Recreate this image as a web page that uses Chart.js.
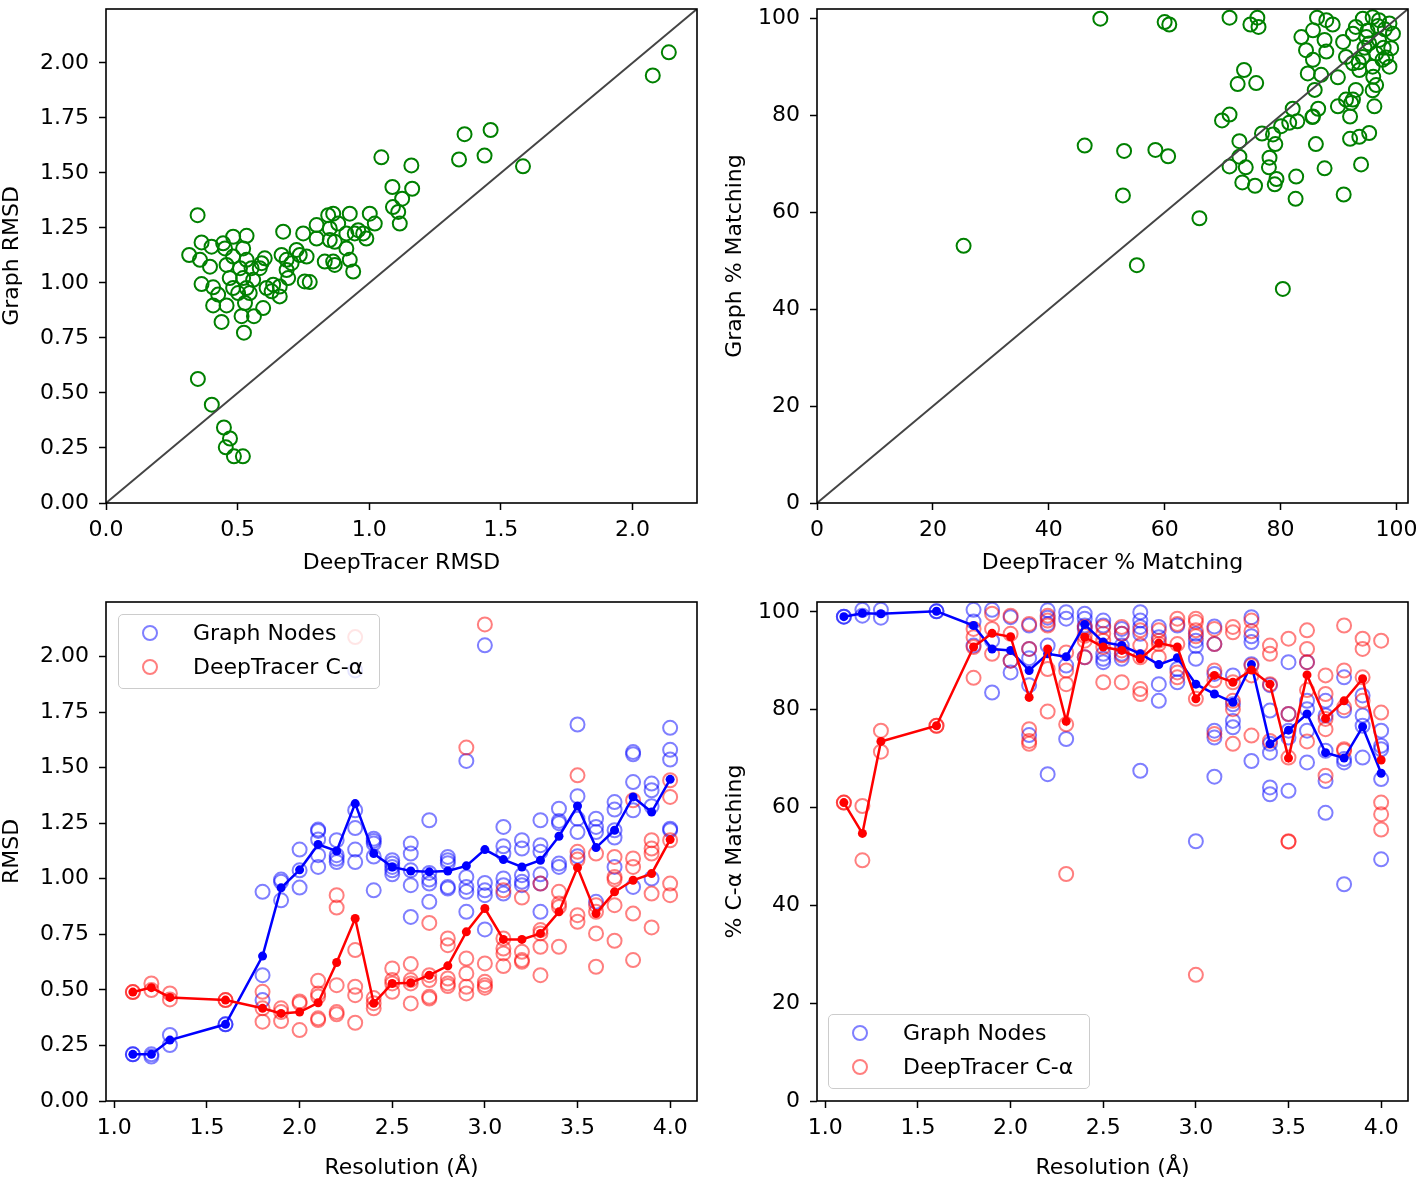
<!DOCTYPE html>
<html>
<head>
<meta charset="utf-8">
<script src="https://cdn.jsdelivr.net/npm/chart.js@4.4.1/dist/chart.umd.min.js"></script>
<style>
  body { margin: 0; background: #fff; width: 1423px; height: 1178px; position: relative; overflow: hidden; font-family: 'DejaVu Sans', sans-serif; }
  canvas { position: absolute; }
  .legend { position: absolute; width: 262px; height: 75px; border: 1px solid #ccc; border-radius: 5px; background: rgba(255,255,255,0.8); box-sizing: border-box; }
  .mk { position: absolute; width: 16px; height: 16px; border-radius: 50%; box-sizing: border-box; border: 2px solid; }
  .lt { position: absolute; font-size: 22px; line-height: 26px; color: #000; white-space: nowrap; }
</style>
</head>
<body>
<canvas id="rmsdScatter" width="710" height="590" style="left:0;top:0"></canvas>
<canvas id="matchScatter" width="712" height="590" style="left:711px;top:0"></canvas>
<canvas id="rmsdRes" width="710" height="588" style="left:0;top:590px"></canvas>
<canvas id="matchRes" width="712" height="588" style="left:711px;top:590px"></canvas>

<div class="legend" style="left:118px;top:614px">
  <span class="mk" style="left:23px;top:10px;border-color:rgba(0,0,255,0.5)"></span>
  <span class="lt" style="left:74px;top:5px">Graph Nodes</span>
  <span class="mk" style="left:23px;top:44px;border-color:rgba(255,0,0,0.5)"></span>
  <span class="lt" style="left:74px;top:39px">DeepTracer C-α</span>
</div>
<div class="legend" style="left:828px;top:1014px">
  <span class="mk" style="left:23px;top:10px;border-color:rgba(0,0,255,0.5)"></span>
  <span class="lt" style="left:74px;top:5px">Graph Nodes</span>
  <span class="mk" style="left:23px;top:44px;border-color:rgba(255,0,0,0.5)"></span>
  <span class="lt" style="left:74px;top:39px">DeepTracer C-α</span>
</div>

<script>
// --- top left: RMSD per map ---
const deepTracerRmsd = [0.348,0.316,0.363,0.357,0.395,0.401,0.363,0.407,0.426,0.407,
  0.458,0.439,0.524,0.515,0.562,0.597,0.528,0.483,0.534,0.445,
  0.452,0.521,0.483,0.534,0.458,0.509,0.553,0.470,0.521,0.559,
  0.483,0.534,0.502,0.546,0.584,0.603,0.591,0.610,0.635,0.629,
  0.660,0.660,0.673,0.667,0.686,0.705,0.686,0.724,0.736,0.762,
  0.692,0.755,0.774,0.749,0.800,0.800,0.844,0.863,0.850,0.882,
  0.850,0.869,0.913,0.926,0.913,0.831,0.863,0.869,0.926,0.939,
  0.958,0.945,0.977,0.989,1.002,1.021,1.046,1.088,1.160,1.163,
  1.125,1.090,1.110,1.116,
  0.349,0.402,0.448,0.471,0.455,0.486,0.520,
  1.362,1.461,1.341,1.438,1.584,2.077,2.138];
const graphRmsd = [1.308,1.127,1.184,1.105,1.074,1.165,0.995,0.980,0.947,0.898,
  0.898,0.823,0.774,0.849,0.849,0.886,0.909,1.210,1.214,1.180,
  1.157,1.157,1.120,1.105,1.082,1.067,1.067,1.022,1.022,1.014,
  0.977,0.977,0.954,0.954,1.067,1.112,1.090,0.977,0.992,0.962,
  0.984,0.939,1.233,1.127,1.105,1.090,1.059,1.150,1.127,1.120,
  1.022,1.007,1.004,1.225,1.263,1.202,1.308,1.315,1.248,1.270,
  1.195,1.187,1.225,1.315,1.157,1.097,1.097,1.082,1.105,1.052,
  1.240,1.225,1.225,1.202,1.315,1.270,1.571,1.436,1.534,1.428,
  1.383,1.345,1.323,1.270,
  0.564,0.447,0.343,0.293,0.253,0.212,0.212,
  1.676,1.695,1.561,1.579,1.530,1.943,2.048];

// --- top right: % matching per map ---
const deepTracerMatch = [48.9,46.2,25.3,60.0,60.8,71.2,74.8,76.0,76.2,86.3,87.9,89.0,83.6,85.6,87.6,84.4,87.9,85.6,84.7,87.0,
  89.9,85.9,89.9,86.5,85.6,92.0,90.8,92.5,94.2,95.9,97.0,98.8,99.4,99.1,98.8,96.5,95.3,94.2,92.5,91.3,
  93.6,95.9,97.6,97.0,94.8,93.0,96.5,95.9,93.0,92.5,91.3,96.2,92.2,
  82.1,85.5,81.5,82.9,80.1,78.7,76.8,72.9,79.1,71.2,69.9,73.7,72.6,75.8,72.9,71.2,74.0,78.1,78.0,79.3,
  79.0,73.4,75.6,82.7,82.6,86.1,87.6,92.0,93.6,95.3,93.9,90.9,80.4,66.0,55.2,53.0,58.4,60.6,52.8,
  96.8,98.0,95.0,97.8,96.0,98.2,94.5,93.5];
const graphMatch = [100.0,73.8,53.1,99.3,98.8,100.2,98.8,100.2,98.3,100.2,99.7,98.8,96.2,97.6,95.6,93.5,93.2,91.5,88.7,88.4,
  87.9,85.3,81.9,81.4,79.8,79.8,95.2,96.9,100.0,100.3,99.7,99.0,96.9,93.9,90.1,92.8,94.9,92.1,90.8,92.1,
  89.4,90.1,91.5,95.6,96.2,98.3,86.3,85.2,85.3,83.3,83.3,81.9,82.6,
  81.4,79.7,78.5,78.8,77.8,76.1,76.3,74.7,74.1,80.2,79.0,89.4,86.5,86.7,71.5,69.5,69.3,71.3,69.3,66.9,
  65.8,66.2,65.5,67.4,62.8,74.1,69.1,75.2,75.6,76.4,69.9,63.7,44.2,58.8,49.1,72.7,72.9,71.6,63.5,
  98.5,97.8,97.5,94.0,88.0,92.0,94.0,91.0];

// --- bottom panels: values by resolution ---
const resolutions = [1.1,1.2,1.3,1.6,1.8,1.9,2.0,2.1,2.2,2.3,2.4,2.5,2.6,2.7,2.8,2.9,3.0,3.1,3.2,3.3,3.4,3.5,3.6,3.7,3.8,3.9,4.0];

const graphRmsdByRes = [[0.21,0.21],[0.21,0.20],[0.297,0.252],[0.345,0.345],[0.941,0.566,0.454],[0.996,0.986,0.903],
  [1.131,1.038,0.960],[1.221,1.215,1.176,1.106,1.053],[1.173,1.106,1.09,1.075],[1.937,1.308,1.228,1.131,1.075],
  [1.18,1.17,1.158,1.10,0.948],[1.083,1.068,1.053,1.038,1.02],[1.158,1.113,1.038,0.971,0.828],[1.263,1.026,0.996,0.978,0.896],
  [1.098,1.083,1.07,0.963,0.956],[1.53,1.008,0.963,0.941,0.851],[2.05,0.981,0.948,0.926,0.772],[1.233,1.146,1.113,1.001,0.971,0.933],
  [1.173,1.136,1.016,0.986,0.971],[1.263,1.151,1.121,1.02,0.978,0.851],[1.315,1.26,1.25,1.068,1.053],[1.694,1.371,1.27,1.21,1.101],
  [1.27,1.233,1.21,0.896],[1.345,1.311,1.218,1.185,1.053],[1.57,1.56,1.435,1.308,0.963],[1.428,1.398,1.326,1.001],[1.679,1.58,1.536,1.225,1.218]];
const deepTracerRmsdByRes = [[0.49,0.49],[0.529,0.499],[0.484,0.457],[0.454,0.454],[0.491,0.417,0.357],[0.417,0.40,0.36],
  [0.448,0.44,0.319],[0.541,0.484,0.47,0.372,0.364],[0.926,0.870,0.521,0.40,0.39],[2.087,0.679,0.514,0.476,0.352],
  [0.463,0.44,0.417],[0.596,0.544,0.529,0.491],[0.616,0.544,0.529,0.439],[0.801,0.566,0.544,0.469,0.461],
  [0.731,0.701,0.551,0.529,0.517],[1.59,0.641,0.574,0.514,0.484],[2.144,0.619,0.536,0.521,0.51],[0.948,0.731,0.686,0.664,0.607],
  [0.915,0.671,0.634,0.626],[0.978,0.769,0.754,0.694,0.566],[0.941,0.888,0.873,0.694],[1.465,1.121,1.086,0.836,0.806],
  [1.113,0.881,0.851,0.754,0.604],[1.098,1.008,0.996,0.881,0.721],[1.353,1.091,1.053,0.843,0.634],[1.173,1.136,1.113,0.933,0.781],
  [1.443,1.368,1.173,0.978,0.926]];
const graphRmsdMean = [0.21,0.21,0.274,0.345,0.652,0.959,1.04,1.154,1.125,1.338,1.113,1.053,1.035,1.031,1.035,1.058,1.131,1.086,1.053,1.083,1.191,1.327,1.14,1.218,1.368,1.30,1.447];
const deepTracerRmsdMean = [0.49,0.51,0.466,0.454,0.417,0.394,0.40,0.442,0.623,0.821,0.44,0.529,0.532,0.566,0.608,0.761,0.866,0.727,0.727,0.754,0.851,1.05,0.843,0.941,0.993,1.023,1.176];

const graphMatchByRes = [[99.0,99.0],[100.4,99.2],[100.4,98.8],[100.1,100.1],[100.4,98.0,93.1],[100.4,94.1,83.5],
  [98.9,90.0,87.6],[97.2,92.4,90.5,85.0,74.8],[100.3,98.8,97.5,93.1,66.8],[99.9,98.6,89.0,74.0],
  [99.6,98.6,97.2,96.5,90.7],[98.2,97.2,91.4,90.4,89.7],[96.5,95.5,93.1,91.4,90.4],[99.9,98.2,96.9,95.5,67.5],
  [96.9,94.8,85.2,81.8],[97.2,88.3,85.6],[95.5,94.1,93.0,90.4,53.1],[97.0,93.4,87.3,75.7,74.3,66.3],
  [87.0,81.1,77.7,76.4],[98.9,95.0,93.8,89.3,69.5],[85.0,79.8,73.0,71.2,64.1,62.7],[89.7,79.1,75.7,74.3,63.4],
  [89.7,81.8,80.1,75.7,69.2],[81.8,78.8,71.6,65.4,58.9],[86.6,79.8,69.9,69.2,44.3],[82.9,78.8,76.7,70.2],
  [75.7,72.6,71.9,65.8,49.4]];
const deepTracerMatchByRes = [[61.0,61.0],[60.3,49.2],[75.7,71.4],[76.7,76.7],[96.5,94.8,92.8,86.5],[99.6,96.5,91.4],
  [99.2,95.5,90.0],[97.5,92.4,76.0,73.6,73.0],[99.2,98.2,97.2,88.3,79.6],[91.7,88.0,85.2,77.0,46.4],
  [96.9,95.1,94.1,90.7],[96.9,95.5,94.1,92.8,85.6],[96.9,95.5,92.1,91.1,85.6],[96.2,93.1,90.7,84.2,83.2],
  [96.2,94.1,93.4,90.7],[98.6,97.5,93.4,87.6,86.6],[98.6,97.9,96.2,95.0,82.2,25.8],[96.5,93.4,88.0,86.0,75.0],
  [96.9,95.8,85.6,81.8,80.1,73.0],[98.2,96.0,89.0,87.0,74.7],[93.1,91.4,85.2,73.6],[94.5,79.1,70.2,53.1,53.0],
  [96.2,92.4,89.7,84.0,73.5],[87.0,83.2,78.1,76.0,66.5],[97.2,88.0,80.5,71.9,71.6],[94.5,92.4,86.6,81.8],
  [94.1,79.4,61.0,58.6,55.5]];
const graphMatchMean = [99.0,99.7,99.6,100.1,97.2,92.4,92.1,88.0,91.4,90.8,97.4,93.8,93.1,91.4,89.2,90.6,85.2,83.2,81.5,89.2,73.0,75.8,79.1,71.2,70.1,76.5,67.0];
const deepTracerMatchMean = [61.0,54.7,73.5,76.7,92.8,95.6,94.9,82.5,92.4,77.6,94.8,92.8,92.1,90.4,93.6,92.8,82.2,87.0,85.6,88.1,85.2,70.1,87.1,78.2,81.8,86.3,69.7];

// tick labels and axis limits
const rmsdTicks = ['0.00','0.25','0.50','0.75','1.00','1.25','1.50','1.75','2.00'];
const rmsdXTicks = ['0.0','0.5','1.0','1.5','2.0'];
const pctTicks = ['0','20','40','60','80','100'];
const resTicks = ['1.0','1.5','2.0','2.5','3.0','3.5','4.0'];
const rmsdLim = [0, 2.245];
const pctLim = [0, 102];
const resLim = [0.955, 4.145];

Chart.defaults.font.family = "'DejaVu Sans', sans-serif";
Chart.defaults.font.size = 22;
Chart.defaults.color = '#000';

const pairs = (xs, ys) => xs.map((x, i) => ({ x, y: ys[i] }));
function flatten(xs, groups) {
  const pts = [];
  xs.forEach((x, i) => groups[i].forEach(v => pts.push({ x, y: v })));
  return pts;
}

// box around the plot area, like matplotlib spines
const framePlugin = {
  id: 'frame',
  afterDraw(chart) {
    const { ctx, chartArea: a } = chart;
    ctx.save();
    ctx.strokeStyle = '#000';
    ctx.lineWidth = 1.6;
    ctx.strokeRect(a.left, a.top, a.right - a.left, a.bottom - a.top);
    ctx.restore();
  }
};

function axis(lim, labels, title, isX, fit, titlePad) {
  return {
    type: 'linear', min: lim[0], max: lim[1],
    afterBuildTicks: s => { s.ticks = labels.map(l => ({ value: parseFloat(l) })); },
    ticks: { callback: (v, i) => labels[i], padding: isX ? 7 : 10, maxRotation: 0, autoSkip: false },
    grid: { drawOnChartArea: false, drawTicks: true, tickLength: 7, tickWidth: 1.5, tickColor: '#000' },
    border: { display: false },
    title: { display: true, text: title, padding: isX ? { top: 0, bottom: titlePad } : { top: titlePad, bottom: 0 } },
    afterFit: s => {
      if (isX) { s.height = fit; s.paddingLeft = 0; s.paddingRight = 0; }
      else { s.width = fit; s.paddingTop = 0; s.paddingBottom = 0; }
    }
  };
}

function options(x, y, pad) {
  return {
    responsive: false, animation: false, events: [],
    layout: { padding: pad },
    plugins: { legend: { display: false }, tooltip: { enabled: false } },
    scales: { x, y }
  };
}

const ring = (data, color, order) => ({
  type: 'scatter', data, borderColor: color, backgroundColor: 'rgba(0,0,0,0)',
  pointRadius: 7, pointBorderWidth: 2, order
});
const meanLine = (data, color, order) => ({
  type: 'line', data, borderColor: color, backgroundColor: color, borderWidth: 2.5,
  pointRadius: 4.5, pointBorderWidth: 0, pointBackgroundColor: color, tension: 0, fill: false, order
});
const diag = (lim) => ({
  type: 'line', data: pairs(lim, lim), borderColor: '#444', borderWidth: 2, pointRadius: 0, fill: false, order: 0
});

new Chart(document.getElementById('rmsdScatter'), {
  type: 'scatter',
  data: { datasets: [diag(rmsdLim), ring(pairs(deepTracerRmsd, graphRmsd), 'green', 1)] },
  options: options(axis(rmsdLim, rmsdXTicks, 'DeepTracer RMSD', true, 87, 14),
                   axis(rmsdLim, rmsdTicks, 'Graph RMSD', false, 106, -1),
                   { top: 5, right: 13, left: 0, bottom: 0 }),
  plugins: [framePlugin]
});

new Chart(document.getElementById('matchScatter'), {
  type: 'scatter',
  data: { datasets: [diag(pctLim), ring(pairs(deepTracerMatch, graphMatch), 'green', 1)] },
  options: options(axis(pctLim, pctTicks, 'DeepTracer % Matching', true, 87, 14),
                   axis(pctLim, pctTicks, 'Graph % Matching', false, 106, 11),
                   { top: 5, right: 15, left: 0, bottom: 0 }),
  plugins: [framePlugin]
});

new Chart(document.getElementById('rmsdRes'), {
  type: 'scatter',
  data: { datasets: [
    ring(flatten(resolutions, graphRmsdByRes), 'rgba(0,0,255,0.5)', 4),
    ring(flatten(resolutions, deepTracerRmsdByRes), 'rgba(255,0,0,0.5)', 3),
    meanLine(pairs(resolutions, graphRmsdMean), '#0000ff', 2),
    meanLine(pairs(resolutions, deepTracerRmsdMean), '#ff0000', 1)
  ] },
  options: options(axis(resLim, resTicks, 'Resolution (Å)', true, 77, -3),
                   axis(rmsdLim, rmsdTicks, 'RMSD', false, 106, -1),
                   { top: 12, right: 13, left: 0, bottom: 0 }),
  plugins: [framePlugin]
});

new Chart(document.getElementById('matchRes'), {
  type: 'scatter',
  data: { datasets: [
    ring(flatten(resolutions, graphMatchByRes), 'rgba(0,0,255,0.5)', 4),
    ring(flatten(resolutions, deepTracerMatchByRes), 'rgba(255,0,0,0.5)', 3),
    meanLine(pairs(resolutions, graphMatchMean), '#0000ff', 2),
    meanLine(pairs(resolutions, deepTracerMatchMean), '#ff0000', 1)
  ] },
  options: options(axis(resLim, resTicks, 'Resolution (Å)', true, 77, -3),
                   axis(pctLim, pctTicks, '% C-α Matching', false, 106, 11),
                   { top: 12, right: 15, left: 0, bottom: 0 }),
  plugins: [framePlugin]
});
</script>
</body>
</html>
